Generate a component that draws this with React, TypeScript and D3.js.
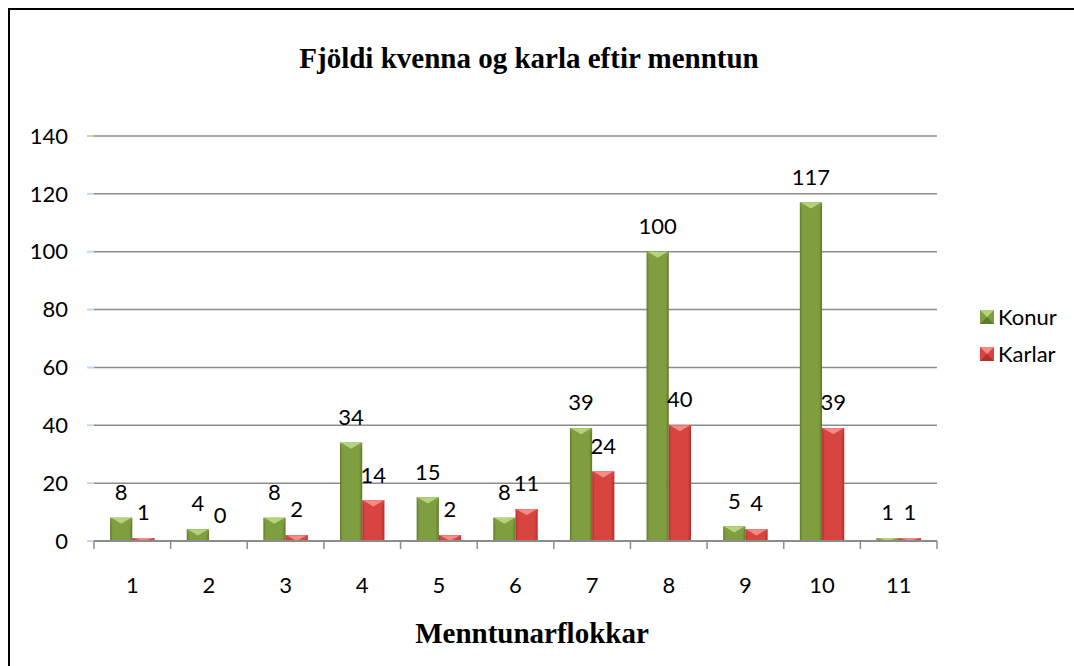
import React from "react";
import * as d3 from "d3";

const categories = ["1", "2", "3", "4", "5", "6", "7", "8", "9", "10", "11"];
const konur = [8, 4, 8, 34, 15, 8, 39, 100, 5, 117, 1];
const karlar = [1, 0, 2, 14, 2, 11, 24, 40, 4, 39, 1];
const yTicks = [0, 20, 40, 60, 80, 100, 120, 140];
const seriesNames = ["Konur", "Karlar"];

const W = 1074;
const H = 666;
const plot = { left: 94, right: 937, top: 136, bottom: 541 };
const labelFont = "Lato, 'Open Sans', sans-serif";
const serif = "'Liberation Serif', 'Times New Roman', serif";

const colors = [
  { dark: "#5f7a2a", mid: "#7f9e40", light: "#b5d47a" },
  { dark: "#b02e2b", mid: "#d8443f", light: "#f38b86" },
];

export default function App() {
  const x = d3.scaleBand<string>().domain(categories).range([plot.left, plot.right]).paddingInner(0).paddingOuter(0);
  const inner = d3.scaleBand<string>().domain(seriesNames).range([0, x.bandwidth() * 0.58]).padding(0);
  const groupOffset = (x.bandwidth() - x.bandwidth() * 0.58) / 2;
  const y = d3.scaleLinear().domain([0, 140]).range([plot.bottom, plot.top]);
  const series = [konur, karlar];

  const bars: React.ReactNode[] = [];
  const labels: React.ReactNode[] = [];
  series.forEach((vals, si) => {
    vals.forEach((v, i) => {
      const bx = (x(categories[i]) ?? 0) + groupOffset + (inner(seriesNames[si]) ?? 0);
      const bw = inner.bandwidth();
      const top = y(v);
      const h = plot.bottom - top;
      const c = colors[si];
      const bev = Math.min(6, h);
      bars.push(
        <g key={`b${si}-${i}`}>
          {h > 0 && <rect x={bx} y={top} width={bw} height={h} fill={`url(#grad${si})`} />}
          {h > 0 && (
            <polygon
              points={`${bx},${top} ${bx + bw},${top} ${bx + bw - 2},${top + bev} ${bx + 2},${top + bev}`}
              fill={c.mid}
            />
          )}
          {h > 0 && (
            <polygon
              points={`${bx + 1},${top} ${bx + bw - 1},${top} ${bx + bw / 2},${top + bev}`}
              fill={c.light}
            />
          )}
        </g>
      );
      labels.push(
        <text
          key={`l${si}-${i}`}
          x={bx + bw / 2}
          y={top - 18}
          textAnchor="middle"
          fontFamily={labelFont}
          fontSize={22}
          fill="#000"
        >
          {v}
        </text>
      );
    });
  });

  return (
    <svg width={W} height={H} style={{ position: "absolute", left: 0, top: 0 }}>
      <defs>
        {colors.map((c, i) => (
          <linearGradient key={i} id={`grad${i}`} x1="0" x2="1" y1="0" y2="0">
            <stop offset="0" stopColor={c.dark} />
            <stop offset="0.12" stopColor={c.mid} />
            <stop offset="0.85" stopColor={c.mid} />
            <stop offset="1" stopColor={c.dark} />
          </linearGradient>
        ))}
        <linearGradient id="yaxis" x1="0" x2="0" y1="0" y2="1">
          <stop offset="0" stopColor="#c3d69b" />
          <stop offset="0.2" stopColor="#c6d6ec" />
          <stop offset="1" stopColor="#c6d6ec" />
        </linearGradient>
      </defs>
      <rect x={0} y={0} width={W} height={H} fill="#fff" />
      <rect x={9} y={9} width={W + 20} height={H + 20} fill="none" stroke="#000" strokeWidth={2} />

      <text x={529} y={68} textAnchor="middle" fontFamily={serif} fontWeight="bold" fontSize={29}>
        Fjöldi kvenna og karla eftir menntun
      </text>

      {yTicks.map((t) => (
        <g key={`g${t}`}>
          {t > 0 && <line x1={plot.left} x2={plot.right} y1={y(t)} y2={y(t)} stroke="#8c8c8c" strokeWidth={1.5} />}
          <line x1={plot.left - 7} x2={plot.left} y1={y(t)} y2={y(t)} stroke={t === 140 ? "#c3d69b" : "#c6d6ec"} strokeWidth={2} />
          <text x={68} y={y(t)} dy="0.35em" textAnchor="end" fontFamily={labelFont} fontSize={22}>
            {t}
          </text>
        </g>
      ))}
      <line x1={plot.left} x2={plot.left} y1={plot.top} y2={plot.bottom} stroke="url(#yaxis)" strokeWidth={2} />

      {bars}

      <line x1={plot.left} x2={plot.right} y1={plot.bottom} y2={plot.bottom} stroke="#8c8c8c" strokeWidth={2} />
      {categories.concat([""]).map((_, i) => {
        const tx = plot.left + i * x.step();
        return <line key={`t${i}`} x1={tx} x2={tx} y1={plot.bottom} y2={plot.bottom + 8} stroke="#8c8c8c" strokeWidth={1.5} />;
      })}
      {categories.map((c) => (
        <text key={`c${c}`} x={(x(c) ?? 0) + x.bandwidth() / 2} y={593} textAnchor="middle" fontFamily={labelFont} fontSize={22}>
          {c}
        </text>
      ))}

      {labels}

      <text x={532} y={643} textAnchor="middle" fontFamily={serif} fontWeight="bold" fontSize={29}>
        Menntunarflokkar
      </text>

      {seriesNames.map((s, i) => {
        const ly = 317 + i * 37;
        const c = colors[i];
        return (
          <g key={`lg${s}`}>
            <rect x={980} y={ly - 7} width={14} height={14} fill={c.mid} />
            <polygon points={`${980},${ly - 7} ${994},${ly - 7} ${987},${ly}`} fill={c.light} />
            <polygon points={`${980},${ly + 7} ${994},${ly + 7} ${987},${ly}`} fill={c.dark} />
            <text x={998} y={ly} dy="0.35em" fontFamily={labelFont} fontSize={22}>
              {s}
            </text>
          </g>
        );
      })}
    </svg>
  );
}
